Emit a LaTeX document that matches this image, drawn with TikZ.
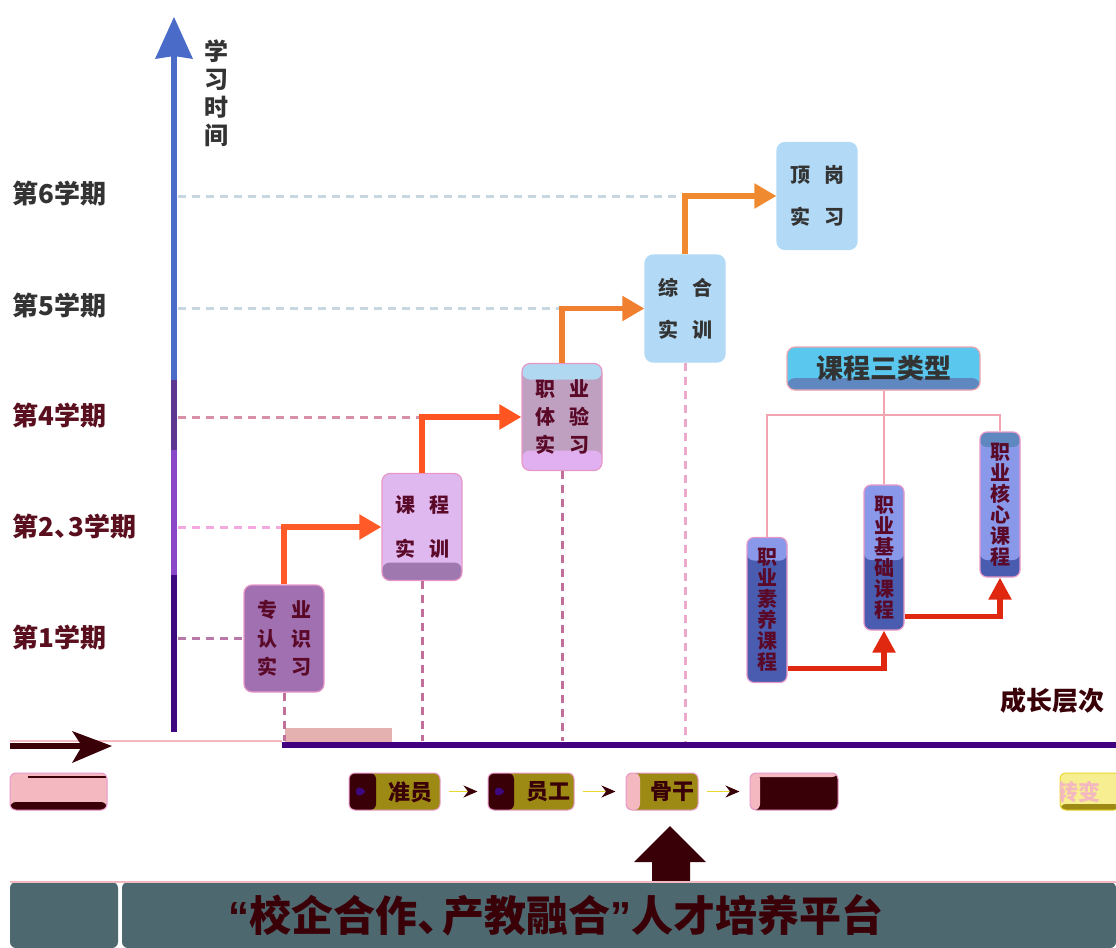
\documentclass[tikz,border=0pt]{standalone}
\usepackage{fontspec}
\setmainfont{Noto Sans CJK SC}
\newfontfamily\latinq{Liberation Sans}
\usetikzlibrary{arrows.meta,calc}
\definecolor{cGray}{HTML}{333333}
\definecolor{cMar}{HTML}{5A0F1E}
\definecolor{cTxt}{HTML}{5A0A28}
\definecolor{cDark}{HTML}{3A0008}
\definecolor{cAx1}{HTML}{3D0880}
\definecolor{cAx2}{HTML}{8A48C8}
\definecolor{cAx3}{HTML}{5E3890}
\definecolor{cAx4}{HTML}{4A6CC8}
\definecolor{cDashBlue}{HTML}{C8D6E0}
\definecolor{cDashMauve}{HTML}{D890A8}
\definecolor{cDashPink}{HTML}{F4A8E0}
\definecolor{cDashPurple}{HTML}{B878A8}
\definecolor{cVdash}{HTML}{C07098}
\definecolor{cVdashL}{HTML}{EEA8CC}
\definecolor{cBoxA}{HTML}{A070B0}
\definecolor{cBoxB}{HTML}{E0B8F0}
\definecolor{cBandB}{HTML}{A078B0}
\definecolor{cBoxCm}{HTML}{C0A0C0}
\definecolor{cBoxCt}{HTML}{B0D8F0}
\definecolor{cBoxCb}{HTML}{E0B0F0}
\definecolor{cBlueBox}{HTML}{B2DAF6}
\definecolor{cBoxBorder}{HTML}{E898C8}
\definecolor{cArr1}{HTML}{FF5A28}
\definecolor{cArr2}{HTML}{FF5520}
\definecolor{cArr3}{HTML}{F08030}
\definecolor{cArr4}{HTML}{F08A30}
\definecolor{cBase}{HTML}{420080}
\definecolor{cCyan}{HTML}{5AC8EE}
\definecolor{cCyanB}{HTML}{6088C0}
\definecolor{cTree}{HTML}{F2A4B0}
\definecolor{cTreeL}{HTML}{FFC0EC}
\definecolor{cVTop}{HTML}{8A98EA}
\definecolor{cVBot}{HTML}{4A5CB0}
\definecolor{cRed}{HTML}{E02810}
\definecolor{cOlive}{HTML}{9C8A14}
\definecolor{cPinkCap}{HTML}{F4B8C0}
\definecolor{cYel}{HTML}{E8D830}
\definecolor{cBand}{HTML}{4E6870}
\definecolor{cLtYel}{HTML}{F6EE90}
\definecolor{cArtPink}{HTML}{E4B0B0}
\tikzset{
  sem/.style={anchor=west, font=\fontsize{13}{15}\selectfont\bfseries, inner sep=0pt},
  hdash/.style={line width=1.5pt, dash pattern=on 4pt off 3pt},
  vdash/.style={line width=1.5pt, dash pattern=on 4pt off 3pt},
  stepbox/.style={draw=cBoxBorder, line width=0.6pt, rounded corners=4pt, inner sep=0pt,
     minimum width=40pt, minimum height=53.5pt, align=center},
  steparrow/.style={line width=2.6pt, -{Triangle[length=11pt,width=12pt]}},
  vbox/.style={draw=cBoxBorder, line width=0.6pt, rounded corners=3.5pt, inner sep=0pt,
     minimum width=20pt, minimum height=72.5pt, align=center, text=cTxt,
     font=\fontsize{10}{10.5}\selectfont\bfseries},
  redarrow/.style={cRed, line width=2.6pt, -{Triangle[length=11pt,width=11pt]}},
  tree/.style={cTree, line width=1pt},
  capsule/.style={draw=cBoxBorder, line width=0.5pt, rounded corners=3pt, inner sep=0pt,
     minimum height=18.5pt},
  captext/.style={text=cDark, font=\fontsize{11}{12}\selectfont\bfseries, inner sep=0pt},
  caparrow/.style={cYel, line width=0.6pt, shorten <=4pt, shorten >=5pt,
     -{Stealth[length=7pt,width=6pt,color=cDark]}}
}
\begin{document}
\begin{tikzpicture}[x=0.5pt,y=-0.5pt]
\useasboundingbox (0,0) rectangle (1116,948);

% ---------------- vertical axis ----------------
\coordinate (axB) at (174,732);
\coordinate (ax1) at (174,575);
\coordinate (ax2) at (174,450);
\coordinate (ax3) at (174,380);
\coordinate (axT) at (174,56);
\draw[line width=3pt, cAx1] (axB) -- (ax1);
\draw[line width=3pt, cAx2] (ax1) -- (ax2);
\draw[line width=3pt, cAx3] (ax2) -- (ax3);
\draw[line width=3pt, cAx4] (ax3) -- (axT);
\fill[cAx4] (axT) ++(0,-39) -- ++(-19,42) -- (axT) -- ++(19,3) -- cycle;
\node[font=\fontsize{12}{14}\selectfont\bfseries, text=cGray, align=center, inner sep=0pt]
  (ylab) at (216,93) {学\\习\\时\\间};

% ---------------- semester labels ----------------
\node[sem, text=cGray] (s6) at (12,194) {第6学期};
\node[sem, text=cGray] (s5) at (12,306) {第5学期};
\node[sem, text=cMar]  (s4) at (12,416) {第4学期};
\node[sem, text=cMar]  (s23) at (12,527) {第2、\hspace{-0.45em}3学期};
\node[sem, text=cMar]  (s1) at (12,638) {第1学期};

% ---------------- stepping boxes ----------------
\node[stepbox, fill=cBoxA, text=cTxt, font=\fontsize{10}{14.2}\selectfont\bfseries]
  (A) at (284,638.5) {专\hspace{7pt}业\\认\hspace{7pt}识\\实\hspace{7pt}习};
\node[stepbox, fill=cBoxB, text=cTxt, font=\fontsize{10}{22}\selectfont\bfseries,
  path picture={\fill[cBandB] (path picture bounding box.south west) rectangle
     ([yshift=9pt]path picture bounding box.south east);}]
  (B) at (422,527) {课\hspace{7pt}程\\[0pt]实\hspace{7pt}训};
\node[stepbox, fill=cBoxCm, text=cTxt, font=\fontsize{10}{14.2}\selectfont\bfseries,
  path picture={\fill[cBoxCt] (path picture bounding box.north west) rectangle
     ([yshift=-8pt]path picture bounding box.north east);
     \fill[cBoxCb] (path picture bounding box.south west) rectangle
     ([yshift=10pt]path picture bounding box.south east);}]
  (C) at (562,417) {职\hspace{7pt}业\\体\hspace{7pt}验\\实\hspace{7pt}习};
\node[stepbox, draw=cBlueBox, fill=cBlueBox, text=cGray, font=\fontsize{10}{21}\selectfont\bfseries]
  (D) at (685,308.5) {综\hspace{7pt}合\\实\hspace{7pt}训};
\node[stepbox, draw=cBlueBox, fill=cBlueBox, text=cGray, font=\fontsize{10}{21}\selectfont\bfseries]
  (E) at (817,196) {顶\hspace{7pt}岗\\实\hspace{7pt}习};

% axis points for dashed guides
\coordinate (g6) at (178,196);
\coordinate (g5) at (178,308.5);
\coordinate (g4) at (178,417);
\coordinate (g23) at (178,527);
\coordinate (g1) at (178,638.5);
\draw[hdash, cDashBlue]   (g6)  -- (g6 -| D.north);
\draw[hdash, cDashBlue]   (g5)  -- (g5 -| C.north);
\draw[hdash, cDashMauve]  (g4)  -- (g4 -| B.north);
\draw[hdash, cDashPink]   (g23) -- (g23 -| A.north);
\draw[hdash, cDashPurple] (g1)  -- (A.west);

% baseline
\coordinate (bl0) at (282,745);
\coordinate (bl1) at (1116,745);
\coordinate (bt) at (0,741);
\fill[cArtPink] (285,728) rectangle (392,742);
\draw[cPinkCap, line width=0.6pt] (10,741) -- (282,741);
\draw[vdash, cVdash]  (A.south) -- (A.south |- bt);
\draw[vdash, cVdash]  (B.south) -- (B.south |- bt);
\draw[vdash, cVdash]  (C.south) -- (C.south |- bt);
\draw[vdash, cVdashL] (D.south) -- (D.south |- bt);
\draw[line width=2.6pt, cBase] (bl0) -- (bl1);

% step arrows
\draw[steparrow, cArr1] (A.north) |- (B.west);
\draw[steparrow, cArr2] (B.north) |- (C.west);
\draw[steparrow, cArr3] (C.north) |- (D.west);
\draw[steparrow, cArr4] (D.north) |- (E.west);

% ---------------- course types ----------------
\node[draw=cTree, line width=0.6pt, fill=cCyan, rounded corners=4pt, inner sep=0pt,
  minimum width=96.5pt, minimum height=21.5pt, text=cGray,
  font=\fontsize{13.5}{15}\selectfont\bfseries,
  path picture={\fill[cCyanB] (path picture bounding box.south west) rectangle
     ([yshift=6pt]path picture bounding box.south east);}]
  (K) at (883.5,368.5) {课程三类型};

\node[vbox, fill=cVBot,
  path picture={\fill[cVTop] (path picture bounding box.north west) rectangle
     ([yshift=-11.5pt]path picture bounding box.north east);}]
  (S1) at (767,610) {职\\业\\素\\养\\课\\程};
\node[vbox, fill=cVBot,
  path picture={\fill[cVTop] (path picture bounding box.north west) rectangle
     ([yshift=-37.5pt]path picture bounding box.north east);}]
  (S2) at (884,557.5) {职\\业\\基\\础\\课\\程};
\node[vbox, fill=cVBot,
  path picture={\fill[cVTop] (path picture bounding box.north west) rectangle
     ([yshift=-64pt]path picture bounding box.north east);
     \fill[cCyanB] (path picture bounding box.north west) rectangle
     ([yshift=-7.5pt]path picture bounding box.north east);}]
  (S3) at (1000,504.5) {职\\业\\核\\心\\课\\程};

\coordinate (kj) at (883.5,415);
\draw[tree] (K.south) -- (kj);
\draw[tree] (S1.north) -- (S1.north |- kj) -- (S3.north |- kj) -- (S3.north);
\draw[tree] (kj) -- (kj |- S2.north);

\draw[redarrow] ($(S1.south east)+(0,-15)$) -| (S2.south);
\draw[redarrow] ($(S2.south east)+(0,-14)$) -| (S3.south);

\node[font=\fontsize{13}{15}\selectfont\bfseries, text=cDark, inner sep=0pt]
  (grow) at (1052,701) {成长层次};

% ---------------- left arrow ----------------
\coordinate (la0) at (10,746);
\coordinate (la1) at (82,746);
\draw[cDark, line width=3pt] (la0) -- (la1);
\fill[cDark] (la1) ++(-10,-15) -- ++(40,15) -- ++(-40,17) -- (la1) -- cycle;

% ---------------- capsules ----------------
\node[capsule, fill=cPinkCap, minimum width=48.5pt,
  path picture={\fill[cDark] (path picture bounding box.south west) rectangle
     ([yshift=4pt]path picture bounding box.south east);
     \draw[cDark, line width=0.8pt] ([xshift=9pt,yshift=-2pt]path picture bounding box.north west)
       -- ([yshift=-2pt]path picture bounding box.north east);}]
  (P0) at (58.5,791.5) {};
\node[capsule, fill=cOlive, minimum width=45.5pt,
  path picture={\fill[cDark] (path picture bounding box.south west) rectangle
     ([xshift=13.5pt]path picture bounding box.north west);
     \fill[cAx1] ([xshift=3.5pt,yshift=3pt]path picture bounding box.west) -- ++(6pt,-3pt)
       -- ++(-6pt,-3pt) -- cycle;}]
  (P1) at (394.5,791.5) {};
\node[captext] (t1) at (410,792) {准员};
\node[capsule, fill=cOlive, minimum width=43pt,
  path picture={\fill[cDark] (path picture bounding box.south west) rectangle
     ([xshift=13pt]path picture bounding box.north west);
     \fill[cAx1] ([xshift=3.5pt,yshift=3pt]path picture bounding box.west) -- ++(6pt,-3pt)
       -- ++(-6pt,-3pt) -- cycle;}]
  (P2) at (531,791.5) {};
\node[captext] (t2) at (548,792) {员工};
\node[capsule, fill=cOlive, minimum width=36pt,
  path picture={\fill[cPinkCap] (path picture bounding box.south west) rectangle
     ([xshift=7pt]path picture bounding box.north west);}]
  (P3) at (662,791.5) {};
\node[captext] (t3) at (672,792) {骨干};
\node[capsule, fill=cDark, minimum width=44pt,
  path picture={\fill[cPinkCap] (path picture bounding box.south west) rectangle
     ([xshift=5pt]path picture bounding box.north west);
     \fill[cPinkCap] (path picture bounding box.north west) rectangle
     ([yshift=-2pt]path picture bounding box.north east);}]
  (P4) at (794,791.5) {};
\node[capsule, draw=cYel, fill=cLtYel, minimum width=30pt,
  path picture={\fill[cOlive] (path picture bounding box.south west) rectangle
     ([yshift=3pt]path picture bounding box.south east);}]
  (P5) at (1090,791.5) {};
\begin{scope}
  \clip (1060,770) rectangle (1116,815);
  \node[captext, text=cPinkCap] (t5) at (1078,792) {转变};
\end{scope}
\draw[caparrow] (P1) -- (P2);
\draw[caparrow] (P2) -- (P3);
\draw[caparrow] (P3) -- (P4);

% ---------------- big up arrow ----------------
\coordinate (ua) at (670,826);
\fill[cDark] (ua) -- ++(36,36) -- ++(-16,0) -- ++(0,22) -- ++(-38,0) -- ++(0,-22) -- ++(-18,0) -- cycle;

% ---------------- bottom band ----------------
\fill[cBand, rounded corners=3pt] (10,948) -- (10,882) -- (118,882) -- (118,948) -- cycle;
\fill[cBand, rounded corners=3pt] (122,948) -- (122,882) -- (1116,882) -- (1116,948) -- cycle;
\draw[cPinkCap, line width=0.6pt] (10,882) -- (1116,882);
\node[font=\fontsize{21}{24}\selectfont\bfseries, text=cDark, inner sep=0pt]
  (title) at (556,915) {{\latinq\bfseries “}校企合作、\hspace{-0.4em}产教融合{\latinq\bfseries ”}人才培养平台};
\end{tikzpicture}
\end{document}
